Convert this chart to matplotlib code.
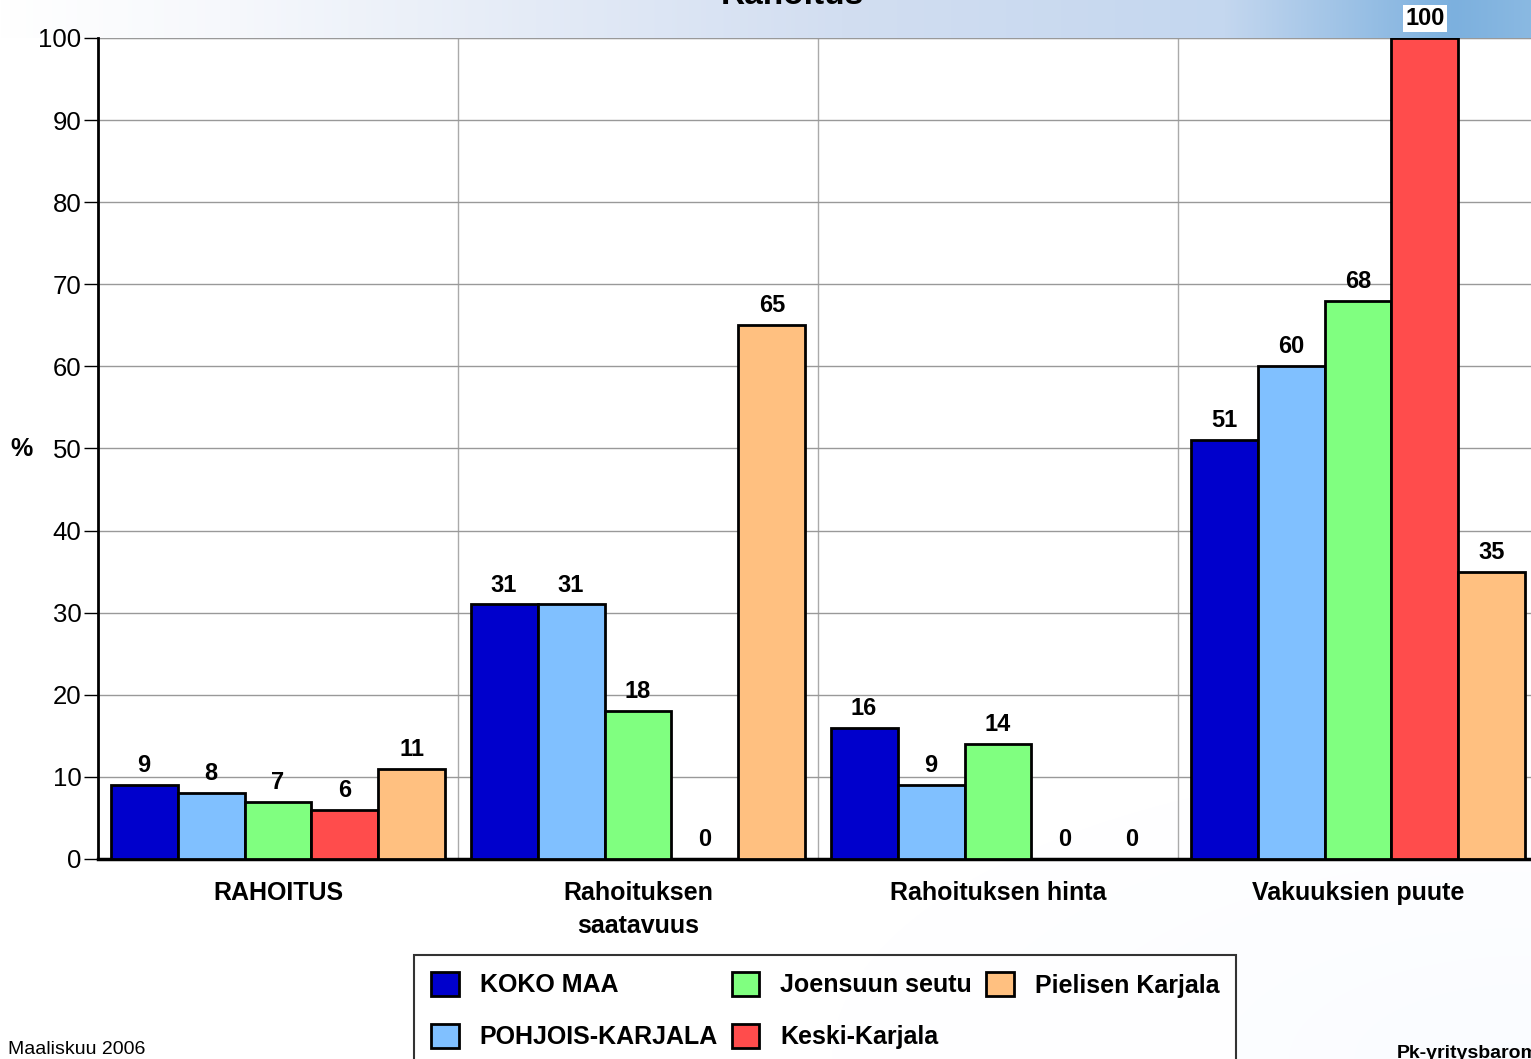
import numpy as np
import matplotlib
matplotlib.use("Agg")
import matplotlib.pyplot as plt
from matplotlib.colors import to_rgb

# Tiedot
kategoriat = ["RAHOITUS", "Rahoituksen\nsaatavuus", "Rahoituksen hinta", "Vakuuksien puute"]
sarjat = ["KOKO MAA", "POHJOIS-KARJALA", "Joensuun seutu", "Keski-Karjala", "Pielisen Karjala"]
koko_maa = [9, 31, 16, 51]
pohjois_karjala = [8, 31, 9, 60]
joensuun_seutu = [7, 18, 14, 68]
keski_karjala = [6, 0, 0, 100]
pielisen_karjala = [11, 65, 0, 35]
varit = ["#0000CC", "#80C0FF", "#80FF80", "#FF4C4C", "#FFC080"]
y_ticks = [0, 10, 20, 30, 40, 50, 60, 70, 80, 90, 100]

arvot = [koko_maa, pohjois_karjala, joensuun_seutu, keski_karjala, pielisen_karjala]

plt.rcParams["font.family"] = ["Liberation Sans", "DejaVu Sans"]

fig = plt.figure(figsize=(15.31, 10.59), dpi=100)

# Taustan liukuvari ylhaalla
bg = fig.add_axes([0, 0, 1, 1], zorder=-10)
bg.axis("off")
h, w = 1059, 1531
img = np.ones((h, w, 3))
xs = np.linspace(0, 1, w)
stops_x = [0.0, 0.15, 0.55, 0.8, 0.95, 1.0]
stops_c = [to_rgb("#ffffff"), to_rgb("#f6f8fc"), to_rgb("#d2def1"), to_rgb("#c4d7ef"), to_rgb("#7cb0de"), to_rgb("#8ab9e2")]
row = np.stack([np.interp(xs, stops_x, [c[i] for c in stops_c]) for i in range(3)], axis=1)
img[:38, :, :] = row[None, :, :]
# heikko savy oikeassa alakulmassa
yy, xx = np.mgrid[0:h, 0:w]
d = np.clip(1 - np.hypot((xx - 1531) / 700, (yy - 1059) / 300), 0, 1) * 0.06
tint = np.array([0.35, 0.2, 0.0])
img[38:] = img[38:] - d[38:, :, None] * tint
bg.imshow(img, extent=[0, 1, 0, 1], aspect="auto", origin="upper")
bg.set_xlim(0, 1)
bg.set_ylim(0, 1)

ax = fig.add_axes([98 / 1531, 200 / 1059, 1440 / 1531, 821 / 1059])
ax.set_facecolor("none")

x = np.arange(len(kategoriat))
leveys = 0.186
for i, (nimi, vals, c) in enumerate(zip(sarjat, arvot, varit)):
    pos = x + (i - 2) * leveys
    ax.bar(pos, vals, leveys, color=c, edgecolor="black", linewidth=2, label=nimi, zorder=3)
    for px, v in zip(pos, vals):
        ax.annotate(str(v), (px, v), xytext=(0, 14), textcoords="offset points",
                    ha="center", va="center", fontsize=17, fontweight="bold", zorder=5,
                    bbox=dict(boxstyle="square,pad=0.1", fc="white", ec="none") if v == 100 else None)

ax.set_xlim(-0.5, 3.5)
ax.set_ylim(0, 100)
ax.set_yticks(y_ticks)
ax.tick_params(axis="y", labelsize=18.5, length=10, width=1, direction="out", pad=2)
ax.set_xticks(x)
ax.set_xticklabels(kategoriat, fontsize=18, fontweight="bold", linespacing=1.45)
ax.tick_params(axis="x", length=0, pad=16)
ax.set_ylabel("%", rotation=0, fontsize=18, fontweight="bold", va="center", ha="center")
ax.yaxis.set_label_coords(-0.053, 0.5)

ax.grid(axis="y", color="#999999", linewidth=1, zorder=0)
for b in [0.5, 1.5, 2.5]:
    ax.axvline(b, color="#aaaaaa", linewidth=1, zorder=0)
ax.axhline(100, color="#666666", linewidth=1.5, zorder=1)

for s in ["top", "right"]:
    ax.spines[s].set_visible(False)
ax.spines["left"].set_linewidth(2)
ax.spines["bottom"].set_linewidth(2.5)

fig.text(792 / 1531, 1 + 4 / 1059, "Rahoitus", ha="center", va="center",
         fontsize=24, fontweight="bold")

leg = fig.legend(loc="upper left", bbox_to_anchor=(414 / 1531, 1 - 955 / 1059), ncol=3,
                 fontsize=18, frameon=True, fancybox=False, edgecolor="black",
                 handlelength=1.1, handleheight=1.1, handletextpad=0.85, columnspacing=0.55,
                 borderpad=0.68, labelspacing=1.05, borderaxespad=0)
leg.get_frame().set_linewidth(1.5)
for t in leg.get_texts():
    t.set_fontweight("bold")

fig.text(8 / 1531, 1 - 1050 / 1059, "Maaliskuu 2006", fontsize=14, va="center", ha="left")
fig.text(1397 / 1531, 1 - 1054 / 1059, "Pk-yritysbarometri", fontsize=14, fontweight="bold",
         va="center", ha="left")

fig.savefig("out.png", dpi=100)
